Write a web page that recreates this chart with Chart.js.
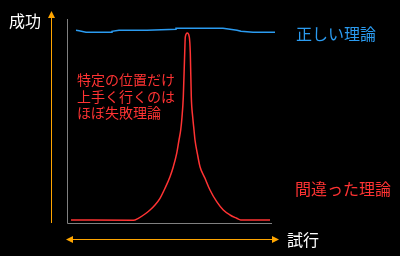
<!DOCTYPE html>
<html>
<head>
<meta charset="utf-8">
<script src="https://cdn.jsdelivr.net/npm/chart.js@4/dist/chart.umd.min.js"></script>
<style>
  body { margin: 0; background: #000; }
  canvas { display: block; }
</style>
</head>
<body>
<canvas id="myChart" width="400" height="256"></canvas>
<script>
// Correct theory (blue): stays high everywhere
const correctX = [9, 12, 19, 45, 45, 52, 80, 109, 109, 156, 163, 170, 174, 186, 208, 213];
const correctY = [192.7, 192.3, 190.7, 190.7, 191.7, 192.7, 192.7, 193.7, 194.7, 194.7, 193.7, 192.7, 191.7, 190.7, 190.7, 191.7];

// Wrong theory (red): only works at one spot
const wrongX = [4, 66.3, 71.3, 78, 83, 88, 93, 98, 103, 106.3, 109.7, 112, 113.7, 115, 116.3, 117.7, 118.3, 120.3,
  122.3, 123.3, 124.3, 125.7, 127, 128, 130.3, 133, 138, 143, 149.7, 156.3, 163, 169.7, 173.7, 203];
const wrongY = [3, 2.7, 4.7, 9, 13, 18, 24.7, 34.7, 46.3, 56.3, 69.7, 83, 93, 106, 126, 170, 186, 190,
  186, 170, 126, 106, 93, 83, 69.7, 56.3, 44.7, 33, 21.3, 13, 8, 4.7, 3, 3];

// Labels
const yAxisLabel = "成功";
const xAxisLabel = "試行";
const correctLabel = "正しい理論";
const wrongLabel = "間違った理論";
const noteLines = ["特定の位置だけ", "上手く行くのは", "ほぼ失敗理論"];

const BLUE = "#2b9bf0";
const RED = "#ff3333";
const ORANGE = "#ffa500";
const FONT = '"Noto Sans CJK JP", sans-serif';

const toPoints = (xs, ys) => xs.map((x, i) => ({ x: x, y: ys[i] }));

// Draw the arrow head (filled triangle)
const arrowHead = (ctx, tipX, tipY, dx, dy) => {
  // dx, dy is the direction the arrow points to
  const len = 7, half = 3.5;
  const bx = tipX - dx * len, by = tipY - dy * len;
  ctx.beginPath();
  ctx.moveTo(tipX, tipY);
  ctx.lineTo(bx - dy * half, by + dx * half);
  ctx.lineTo(bx + dy * half, by - dx * half);
  ctx.closePath();
  ctx.fill();
};

// axes, arrows and texts
const decorations = {
  id: "decorations",
  beforeDatasetsDraw: (chart) => {
    const { ctx, chartArea, scales } = chart;
    const right = scales.x.getPixelForValue(205);
    ctx.save();
    ctx.strokeStyle = "#808080";
    ctx.lineWidth = 1;
    ctx.beginPath();
    ctx.moveTo(chartArea.left + 0.5, chartArea.top);
    ctx.lineTo(chartArea.left + 0.5, chartArea.bottom + 0.5);
    ctx.lineTo(right, chartArea.bottom + 0.5);
    ctx.stroke();
    ctx.restore();
  },
  afterDraw: (chart) => {
    const { ctx } = chart;
    ctx.save();
    // orange arrows
    ctx.strokeStyle = ORANGE;
    ctx.fillStyle = ORANGE;
    ctx.lineWidth = 1;
    ctx.beginPath();
    ctx.moveTo(51.5, 16);
    ctx.lineTo(51.5, 223);
    ctx.stroke();
    arrowHead(ctx, 51.5, 11, 0, -1);
    ctx.beginPath();
    ctx.moveTo(70, 239.5);
    ctx.lineTo(275, 239.5);
    ctx.stroke();
    arrowHead(ctx, 66, 239.5, -1, 0);
    arrowHead(ctx, 279, 239.5, 1, 0);

    // texts
    ctx.textBaseline = "middle";
    ctx.textAlign = "left";
    ctx.font = "16px " + FONT;
    ctx.fillStyle = "#ffffff";
    ctx.fillText(yAxisLabel, 9, 21);
    ctx.fillText(xAxisLabel, 287, 240);
    ctx.fillStyle = BLUE;
    ctx.fillText(correctLabel, 296, 34);
    ctx.fillStyle = RED;
    ctx.fillText(wrongLabel, 295, 189);
    ctx.font = "14px " + FONT;
    noteLines.forEach((line, i) => ctx.fillText(line, 77, 80 + i * 16.5));
    ctx.restore();
  },
};

new Chart(document.querySelector("#myChart"), {
  type: "line",
  data: {
    datasets: [
      {
        label: correctLabel,
        data: toPoints(correctX, correctY),
        borderColor: BLUE,
        borderWidth: 1.5,
        pointRadius: 0,
        tension: 0,
        clip: false,
      },
      {
        label: wrongLabel,
        data: toPoints(wrongX, wrongY),
        borderColor: RED,
        borderWidth: 1.5,
        pointRadius: 0,
        cubicInterpolationMode: "monotone",
        clip: false,
      },
    ],
  },
  options: {
    responsive: false,
    animation: false,
    layout: {
      padding: { left: 67, right: 128, top: 19, bottom: 33 },
    },
    scales: {
      x: { type: "linear", min: 0, max: 205, display: false },
      y: { min: 0, max: 204, display: false },
    },
    plugins: {
      legend: { display: false },
      tooltip: { enabled: false },
    },
  },
  plugins: [decorations],
});
</script>
</body>
</html>
